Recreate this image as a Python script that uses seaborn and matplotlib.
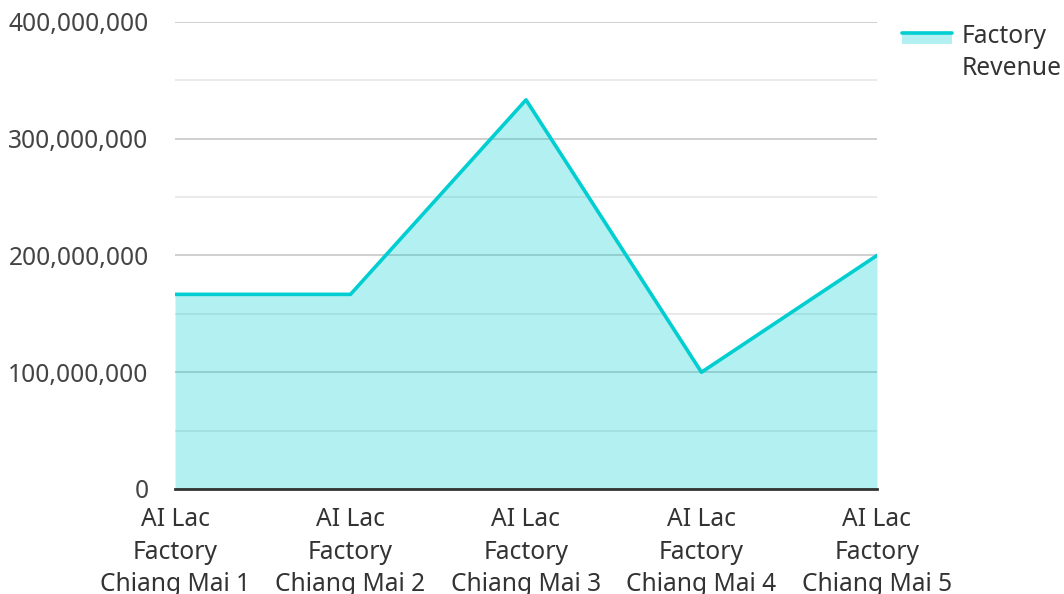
import matplotlib
matplotlib.use("Agg")
import matplotlib.pyplot as plt
import seaborn as sns
import pandas as pd
import numpy as np
from matplotlib.lines import Line2D
from matplotlib.patches import Rectangle
from matplotlib.legend_handler import HandlerBase
from matplotlib.ticker import FuncFormatter, MultipleLocator

categories = ["AI Lac\nFactory\nChiang Mai 1", "AI Lac\nFactory\nChiang Mai 2",
              "AI Lac\nFactory\nChiang Mai 3", "AI Lac\nFactory\nChiang Mai 4",
              "AI Lac\nFactory\nChiang Mai 5"]
revenue = [166_700_000, 166_700_000, 333_300_000, 100_000_000, 200_000_000]
series_name = "Factory\nRevenue"

sns.set_theme(style="white")
plt.rcParams['font.family'] = ['Noto Sans', 'DejaVu Sans']

LINE = "#00CED1"
FS = 17.7
df = pd.DataFrame({"x": np.arange(len(categories)), "y": revenue})

fig = plt.figure(figsize=(10.64, 5.94), dpi=100)
ax = fig.add_axes([0.1645, 0.1768, 0.8242 - 0.1645, 0.963 - 0.1768])

ax.yaxis.set_major_locator(MultipleLocator(100_000_000))
ax.yaxis.set_minor_locator(MultipleLocator(50_000_000))
ax.grid(which="major", axis="y", color="#cccccc", linewidth=1.3)
ax.grid(which="minor", axis="y", color="#e8e8e8", linewidth=1.3)
ax.grid(axis="x", visible=False)
ax.set_axisbelow(True)

ax.fill_between(df["x"], df["y"], 0, color=LINE, alpha=0.3, linewidth=0, zorder=2)
sns.lineplot(data=df, x="x", y="y", ax=ax, color=LINE, linewidth=2.6, zorder=3)

ax.set_xlim(0, len(categories) - 1)
ax.set_ylim(0, 400_000_000)
ax.set_xticks(df["x"])
ax.set_xticklabels(categories, linespacing=1.4)
ax.yaxis.set_major_formatter(FuncFormatter(lambda v, p: f"{int(v):,}"))
ax.set_xlabel("")
ax.set_ylabel("")

for s in ["top", "right", "left"]:
    ax.spines[s].set_visible(False)
ax.spines["bottom"].set_color("#333333")
ax.spines["bottom"].set_linewidth(2)
ax.spines["bottom"].set_zorder(4)

ax.tick_params(axis="y", which="both", length=0, pad=19, labelsize=FS, labelcolor="#444444")
ax.tick_params(axis="x", length=0, pad=13, labelsize=FS, labelcolor="#333333")


class AreaHandler(HandlerBase):
    def create_artists(self, legend, orig_handle, xdescent, ydescent, width, height, fontsize, trans):
        y_line = 1.18 * fontsize
        y_bot = 0.73 * fontsize
        rect = Rectangle((0, y_bot), width, y_line - y_bot,
                         facecolor=LINE, alpha=0.3, edgecolor="none", transform=trans)
        line = Line2D([0, width], [y_line, y_line], color=LINE, linewidth=2.6, transform=trans)
        return [rect, line]


handle = Rectangle((0, 0), 1, 1)
leg = fig.legend([handle], [series_name], handler_map={Rectangle: AreaHandler()},
                 loc="upper left", bbox_to_anchor=(0.8477, 0.96), frameon=False,
                 borderpad=0, borderaxespad=0,
                 fontsize=FS, handlelength=2.03, handleheight=0.7, handletextpad=0.4,
                 labelcolor="#333333")
for t in leg.get_texts():
    t.set_linespacing(1.4)

fig.savefig("out.png", dpi=100)
